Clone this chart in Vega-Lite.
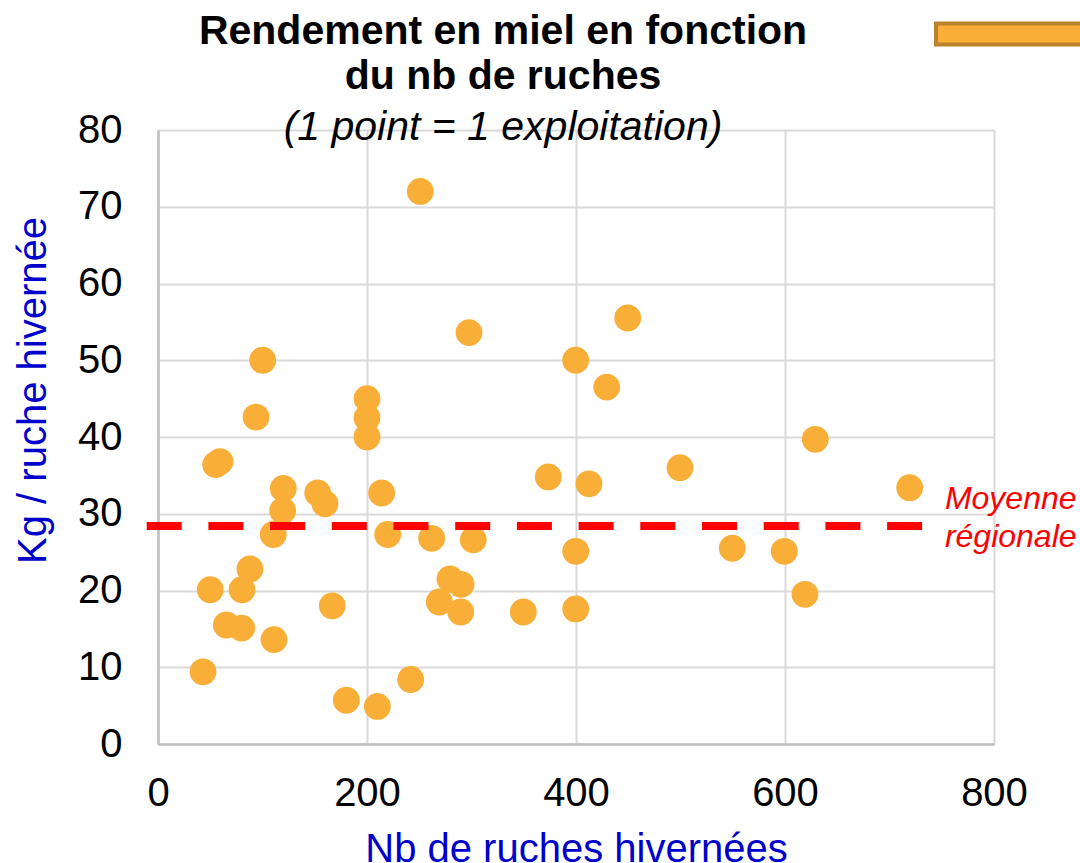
{
  "$schema": "https://vega.github.io/schema/vega-lite/v6.json",
  "width": 836,
  "height": 614,
  "autosize": {"type": "none"},
  "padding": {"left": 158, "top": 130, "right": 86, "bottom": 119},
  "background": "white",
  "title": {
    "text": ["Rendement en miel en fonction", "du nb de ruches"],
    "subtitle": "(1 point = 1 exploitation)",
    "font": "Liberation Sans",
    "fontSize": 41,
    "fontWeight": "bold",
    "color": "#000000",
    "lineHeight": 45,
    "subtitleFont": "Liberation Sans",
    "subtitleFontSize": 41,
    "subtitleFontStyle": "italic",
    "subtitleColor": "#000000",
    "subtitlePadding": 10,
    "anchor": "middle",
    "frame": "group",
    "dx": -73,
    "dy": 95,
    "offset": -122
  },
  "config": {
    "view": {"stroke": null},
    "axis": {
      "labelFont": "Liberation Sans",
      "labelFontSize": 40,
      "labelColor": "#000000",
      "titleFont": "Liberation Sans",
      "titleFontSize": 40,
      "titleFontWeight": "normal",
      "titleColor": "#0000CC",
      "ticks": false,
      "grid": true,
      "gridColor": "#d9d9d9",
      "gridWidth": 2,
      "domainColor": "#bfbfbf",
      "domainWidth": 2.5,
      "labelFlush": false,
      "labelOverlap": false
    }
  },
  "layer": [
    {
      "data": {
        "values": [
          {"nb": 251, "kg": 72.0},
          {"nb": 449.5, "kg": 55.5},
          {"nb": 297.6, "kg": 53.6},
          {"nb": 100.2, "kg": 50.0},
          {"nb": 399.7, "kg": 50.0},
          {"nb": 429.4, "kg": 46.5},
          {"nb": 200, "kg": 45.0},
          {"nb": 200, "kg": 42.5},
          {"nb": 200, "kg": 40.0},
          {"nb": 93.8, "kg": 42.6},
          {"nb": 629, "kg": 39.7},
          {"nb": 499.5, "kg": 36.0},
          {"nb": 55.2, "kg": 36.4},
          {"nb": 59.3, "kg": 36.8},
          {"nb": 373.5, "kg": 34.8},
          {"nb": 412.4, "kg": 33.9},
          {"nb": 719.3, "kg": 33.4},
          {"nb": 119.9, "kg": 33.3},
          {"nb": 152.8, "kg": 32.7},
          {"nb": 214, "kg": 32.7},
          {"nb": 159.8, "kg": 31.3},
          {"nb": 119.3, "kg": 30.4},
          {"nb": 110.3, "kg": 27.3},
          {"nb": 219.8, "kg": 27.3},
          {"nb": 261.9, "kg": 26.8},
          {"nb": 301.7, "kg": 26.6},
          {"nb": 399.7, "kg": 25.1},
          {"nb": 549.6, "kg": 25.5},
          {"nb": 599.3, "kg": 25.1},
          {"nb": 88, "kg": 22.8},
          {"nb": 619.1, "kg": 19.5},
          {"nb": 50, "kg": 20.1},
          {"nb": 80.4, "kg": 20.1},
          {"nb": 279.4, "kg": 21.5},
          {"nb": 290, "kg": 20.8},
          {"nb": 269.2, "kg": 18.5},
          {"nb": 289.7, "kg": 17.2},
          {"nb": 166.8, "kg": 18.0},
          {"nb": 349.6, "kg": 17.2},
          {"nb": 399.7, "kg": 17.6},
          {"nb": 65.4, "kg": 15.5},
          {"nb": 80.1, "kg": 15.1},
          {"nb": 111, "kg": 13.6},
          {"nb": 43.1, "kg": 9.4},
          {"nb": 180.2, "kg": 5.7},
          {"nb": 209.9, "kg": 4.9},
          {"nb": 241.8, "kg": 8.4}
        ]
      },
      "mark": {"type": "circle", "size": 720, "opacity": 1},
      "encoding": {
        "x": {
          "field": "nb", "type": "quantitative",
          "title": "Nb de ruches hivernées",
          "scale": {"domain": [0, 800], "nice": false, "zero": false},
          "axis": {"values": [0, 200, 400, 600, 800], "labelPadding": 29, "titlePadding": 16}
        },
        "y": {
          "field": "kg", "type": "quantitative",
          "title": "Kg / ruche hivernée",
          "scale": {"domain": [0, 80], "nice": false, "zero": false},
          "axis": {"values": [0, 10, 20, 30, 40, 50, 60, 70, 80], "labelPadding": 36, "titlePadding": 24, "titleFontSize": 40, "titleY": 260}
        },
        "color": {
          "datum": "Exploitations",
          "scale": {"range": ["#F9AF37"]},
          "legend": {
            "orient": "none",
            "legendX": 776,
            "legendY": -198,
            "title": null,
            "labelExpr": "''",
            "labelFontSize": 1,
            "padding": 0,
            "symbolOffset": 0,
            "labelOffset": 0,
            "symbolType": "M-1,-0.105H1V0.105H-1Z",
            "symbolSize": 40000,
            "symbolStrokeWidth": 4,
            "symbolStrokeColor": "#B8832A",
            "symbolFillColor": "#F9AF37",
            "encode": {
              "symbols": {
                "update": {
                  "fill": {"value": "#F9AF37"},
                  "stroke": {"value": "#B8832A"},
                  "strokeWidth": {"value": 4},
                  "opacity": {"value": 1}
                }
              }
            }
          }
        }
      }
    },
    {
      "data": {"values": [{"nb": -10.8, "nb2": 731.8, "kg": 28.4}]},
      "mark": {"type": "rule", "color": "#FF0000", "strokeWidth": 8, "strokeDash": [35, 26.7], "strokeCap": "butt"},
      "encoding": {
        "x": {"field": "nb", "type": "quantitative", "title": "Nb de ruches hivernées", "scale": {"domain": [0, 800], "nice": false, "zero": false}},
        "x2": {"field": "nb2"},
        "y": {"field": "kg", "type": "quantitative", "title": "Kg / ruche hivernée", "scale": {"domain": [0, 80], "nice": false, "zero": false}}
      }
    },
    {
      "data": {"values": [{"nb": 753, "kg": 28.4, "label": ["Moyenne", "régionale"]}]},
      "mark": {"type": "text", "align": "left", "baseline": "middle", "font": "Liberation Sans", "fontStyle": "italic", "fontSize": 32, "lineHeight": 38, "color": "#FF0000", "dy": -27.5},
      "encoding": {
        "x": {"field": "nb", "type": "quantitative", "title": "Nb de ruches hivernées", "scale": {"domain": [0, 800], "nice": false, "zero": false}},
        "y": {"field": "kg", "type": "quantitative", "title": "Kg / ruche hivernée", "scale": {"domain": [0, 80], "nice": false, "zero": false}},
        "text": {"field": "label"}
      }
    }
  ]
}
